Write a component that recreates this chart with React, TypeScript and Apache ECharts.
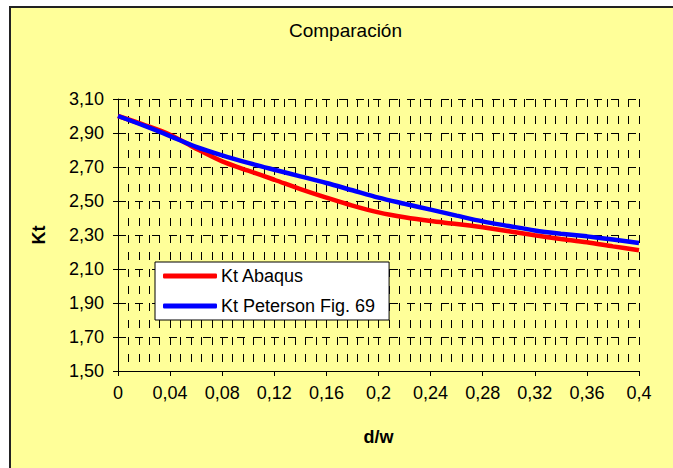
import React, { useEffect, useRef } from "react";
import * as echarts from "echarts";

const xValues = [0, 0.02, 0.04, 0.06, 0.08, 0.1, 0.12, 0.14, 0.16, 0.18, 0.2, 0.22, 0.24, 0.26, 0.28, 0.3, 0.32, 0.34, 0.36, 0.38, 0.4];
const ktAbaqus = [3.0, 2.948, 2.89, 2.808, 2.733, 2.678, 2.625, 2.57, 2.52, 2.473, 2.433, 2.404, 2.382, 2.365, 2.345, 2.322, 2.298, 2.277, 2.257, 2.233, 2.21];
const ktPeterson = [3.0, 2.943, 2.882, 2.818, 2.768, 2.724, 2.684, 2.645, 2.606, 2.563, 2.52, 2.484, 2.449, 2.414, 2.38, 2.353, 2.327, 2.308, 2.292, 2.273, 2.253];
const seriesNames = ["Kt Abaqus", "Kt Peterson Fig. 69"];
const titleText = "Comparación";
const xName = "d/w";
const yName = "Kt";

const FONT = "Liberation Sans, Arial, sans-serif";

export default function App() {
  const ref = useRef<HTMLDivElement>(null);
  useEffect(() => {
    if (!ref.current) return;
    const chart = echarts.init(ref.current, null, { renderer: "svg" });
    const dash = { color: "#000", width: 1, type: [8, 9] as any };
    chart.setOption({
      animation: false,
      backgroundColor: "#ffffff",
      textStyle: { fontFamily: FONT },
      graphic: [
        {
          type: "rect",
          z: -10,
          silent: true,
          shape: { x: 10, y: 7, width: 700, height: 500 },
          style: { fill: "#FFFF99", stroke: "#222", lineWidth: 2 },
        },
      ],
      title: {
        text: titleText,
        left: 289,
        top: 21,
        padding: 0,
        textStyle: { fontFamily: FONT, fontSize: 19, fontWeight: "normal", color: "#000" },
      },
      legend: {
        orient: "vertical",
        left: 155,
        top: 262,
        padding: [5, 14, 5, 8],
        itemGap: 12,
        itemWidth: 54,
        itemHeight: 5,
        icon: "roundRect",
        backgroundColor: "#fff",
        borderColor: "#000",
        borderWidth: 1,
        borderRadius: 0,
        textStyle: { fontFamily: FONT, fontSize: 18, color: "#000", padding: [0, 0, 0, -1] },
        data: seriesNames,
      },
      grid: { left: 118, right: 34, top: 99, bottom: 97, containLabel: false },
      xAxis: {
        type: "value",
        min: 0,
        max: 0.4,
        interval: 0.04,
        name: xName,
        nameLocation: "middle",
        nameGap: 57,
        nameTextStyle: { fontFamily: FONT, fontSize: 18, fontWeight: "bold", color: "#000" },
        axisLine: { show: true, lineStyle: { color: "#000", width: 1 } },
        axisTick: { show: true, length: 5, lineStyle: { color: "#000" } },
        axisLabel: {
          margin: 13,
          fontFamily: FONT,
          fontSize: 18,
          color: "#000",
          formatter: (v: number) => String(+v.toFixed(2)).replace(".", ","),
        },
        splitLine: { show: true, lineStyle: dash },
        minorTick: { show: false, splitNumber: 5 },
        minorSplitLine: { show: true, lineStyle: dash },
      },
      yAxis: {
        type: "value",
        min: 1.5,
        max: 3.1,
        interval: 0.2,
        name: yName,
        nameLocation: "middle",
        nameGap: 70,
        nameRotate: 90,
        nameTextStyle: { fontFamily: FONT, fontSize: 18, fontWeight: "bold", color: "#000" },
        axisLine: { show: true, lineStyle: { color: "#000", width: 1 } },
        axisTick: { show: true, length: 5, lineStyle: { color: "#000" } },
        axisLabel: {
          margin: 14,
          fontFamily: FONT,
          fontSize: 18,
          color: "#000",
          formatter: (v: number) => v.toFixed(2).replace(".", ","),
        },
        splitLine: { show: true, lineStyle: dash },
      },
      series: [
        {
          name: seriesNames[0],
          type: "line",
          smooth: 0.3,
          showSymbol: false,
          color: "#FF0000",
          lineStyle: { color: "#FF0000", width: 4.5 },
          data: xValues.map((x, i) => [x, ktAbaqus[i]]),
        },
        {
          name: seriesNames[1],
          type: "line",
          smooth: 0.3,
          showSymbol: false,
          color: "#0000FF",
          lineStyle: { color: "#0000FF", width: 4.5 },
          data: xValues.map((x, i) => [x, ktPeterson[i]]),
        },
      ],
    });
    return () => chart.dispose();
  }, []);
  return (
    <div style={{ position: "fixed", left: 0, top: 0, width: 673, height: 468 }}>
      <div ref={ref} style={{ width: 673, height: 468 }} />
    </div>
  );
}
